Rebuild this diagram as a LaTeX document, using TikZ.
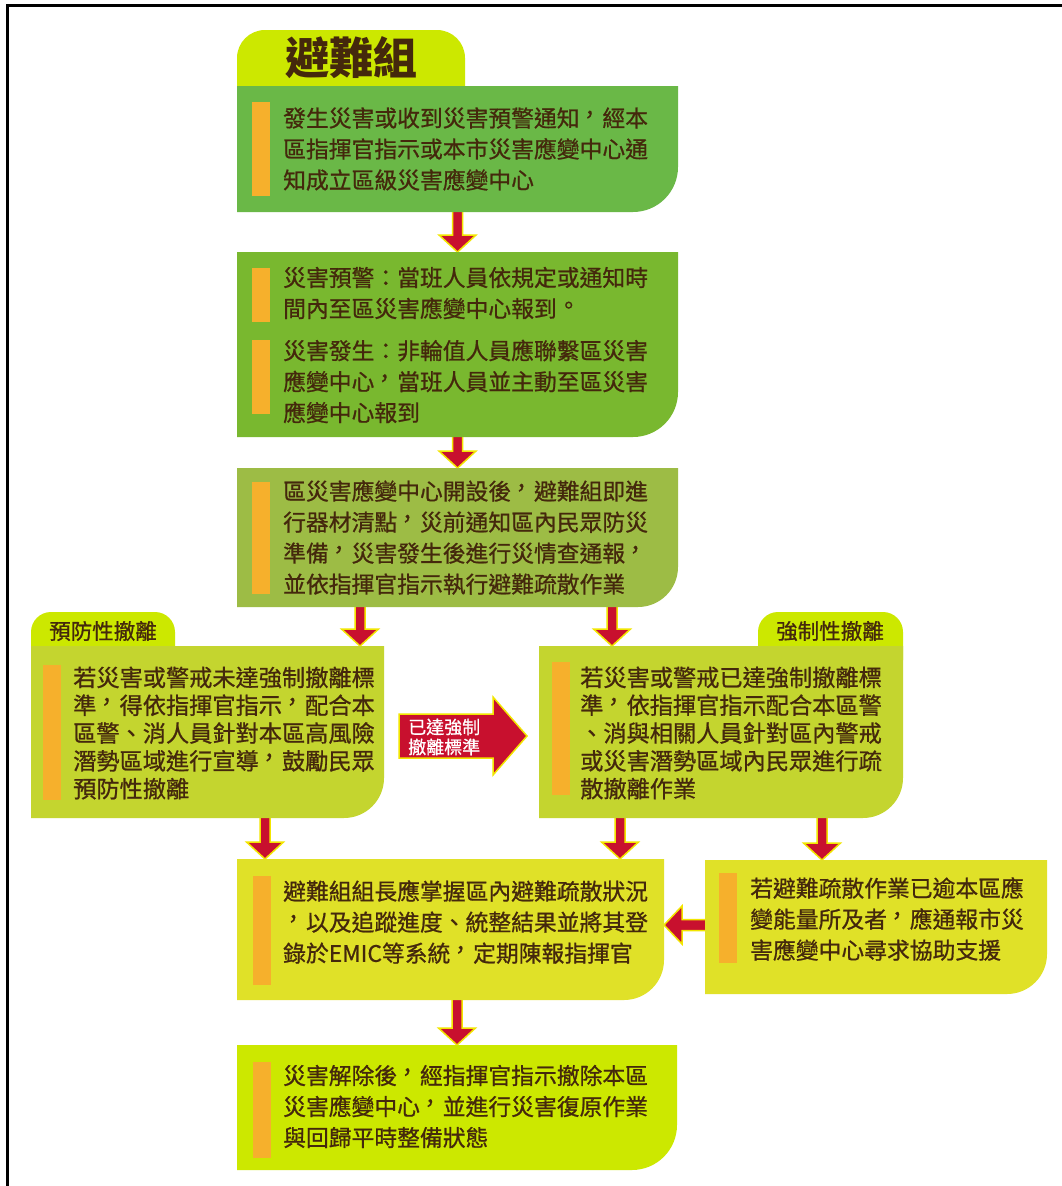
\documentclass[tikz,border=0pt]{standalone}
\usepackage{fontspec}
\setmainfont{Noto Sans CJK TC}[Script=CJK, Language=Chinese Traditional, FakeBold=0.8]
\newfontfamily\titlefont{Noto Sans CJK TC}[Script=CJK, Language=Chinese Traditional]
\usetikzlibrary{calc}
\definecolor{limec}{HTML}{CCE800}
\definecolor{gA}{HTML}{6AB847}
\definecolor{gB}{HTML}{79B82F}
\definecolor{gC}{HTML}{9DBC45}
\definecolor{gD}{HTML}{C4D52F}
\definecolor{gE}{HTML}{E0E128}
\definecolor{barorange}{HTML}{F6B02C}
\definecolor{txtbrown}{HTML}{44280C}
\definecolor{arrred}{HTML}{C8102E}
\definecolor{arryellow}{HTML}{F2E600}
% centred (Taiwan style) punctuation
\newcommand\cm{\rlap{\hspace{-0.06em}\raisebox{0.17em}{，}}\hspace{1em}}
\newcommand\pd{\rlap{\hspace{0.02em}\raisebox{0.15em}{。}}\hspace{1em}}
\tikzset{
  boxnode/.style={rectangle, inner sep=0pt, outer sep=0pt, anchor=north west},
  body/.style={anchor=west, inner sep=0pt, align=left, text=txtbrown, font=\fontsize{22.8}{31}\selectfont},
  bodyw/.style={anchor=west, inner sep=0pt, align=left, text=txtbrown, font=\fontsize{23.2}{27.8}\selectfont},
  barfill/.style={fill=barorange},
  redarr/.style={fill=arrred, draw=arryellow, line width=1.5pt, line join=miter},
  tabtext/.style={text=txtbrown, inner sep=0pt, font=\fontsize{21.5}{24}\selectfont},
  arrtext/.style={text=white, inner sep=0pt, align=left, anchor=west, font=\fontsize{18}{20}\selectfont},
}
\newcommand\boxbg[3]{\fill[#2] (#1.north west) -- (#1.north east) -- ([yshift=#3]#1.south east) arc[start angle=0,end angle=-90,radius=#3] -- (#1.south west) -- cycle;}
\newcommand\darr[2]{\path[redarr] let \p1=(#1), \p2=(#2) in (\x1-5pt,\y1+2pt) -- (\x1-5pt,\y2+17pt) -- (\x1-18.5pt,\y2+17pt) -- (\x1,\y2) -- (\x1+18.5pt,\y2+17pt) -- (\x1+5pt,\y2+17pt) -- (\x1+5pt,\y1+2pt) -- cycle;}
\newcommand\larr[2]{\path[redarr] let \p1=(#1), \p2=(#2) in (\x1+2pt,\y1+5.5pt) -- (\x2+18pt,\y1+5.5pt) -- (\x2+18pt,\y1+19pt) -- (\x2,\y1) -- (\x2+18pt,\y1-19pt) -- (\x2+18pt,\y1-5.5pt) -- (\x1+2pt,\y1-5.5pt) -- cycle;}
\begin{document}
\begin{tikzpicture}[x=1pt,y=-1pt]
\useasboundingbox (0,0) rectangle (1062,1186);
\fill[white] (0,0) rectangle (1062,1186);
% frame
\draw[line width=2.5pt] (7.5,1186) -- (7.5,5.5) -- (1062,5.5);
% box placeholders
\node[boxnode, minimum width=441pt, minimum height=126pt] (b1) at (237,86) {};
\node[boxnode, minimum width=441pt, minimum height=185pt] (b2) at (237,252) {};
\node[boxnode, minimum width=441pt, minimum height=139pt] (b3) at (237,468) {};
\node[boxnode, minimum width=353pt, minimum height=172pt] (b4) at (31,646) {};
\node[boxnode, minimum width=364pt, minimum height=172pt] (b5) at (539,646) {};
\node[boxnode, minimum width=427pt, minimum height=141pt] (b6) at (237,859) {};
\node[boxnode, minimum width=342pt, minimum height=134pt] (b7) at (705,860) {};
\node[boxnode, minimum width=440pt, minimum height=125pt] (b8) at (237,1045) {};
% helper coordinates
\coordinate (xA) at (360,0);
\coordinate (xB) at (612,0);
\coordinate (xC) at (265,0);
\coordinate (xD) at (620,0);
\coordinate (xE) at (822,0);
\coordinate (xF) at (457,0);
\coordinate (yL) at (0,925);
\coordinate (yM) at (0,736);
% arrows
\darr{b1.south}{b2.north}
\darr{b2.south}{b3.north}
\darr{b3.south -| xA}{b4.north -| xA}
\darr{b3.south -| xB}{b5.north -| xB}
\darr{b4.south -| xC}{b6.north -| xC}
\darr{b5.south -| xD}{b6.north -| xD}
\darr{b5.south -| xE}{b7.north -| xE}
\darr{b6.south -| xF}{b8.north -| xF}
\larr{b7.west |- yL}{b6.east |- yL}
% tabs
\fill[limec, rounded corners=28pt] (237,120) -- (237,30) -- (465,30) -- (465,120) -- cycle;
\fill[limec, rounded corners=20pt] (31,680) -- (31,612) -- (175,612) -- (175,680) -- cycle;
\fill[limec, rounded corners=20pt] (758,680) -- (758,612) -- (903,612) -- (903,680) -- cycle;
% boxes
\boxbg{b1}{gA}{45pt}
\boxbg{b2}{gB}{45pt}
\boxbg{b3}{gC}{40pt}
\boxbg{b4}{gD}{40pt}
\boxbg{b5}{gD}{40pt}
\boxbg{b6}{gE}{40pt}
\boxbg{b7}{gE}{40pt}
\boxbg{b8}{limec}{45pt}
% tab texts
\node[text=txtbrown, inner sep=0pt, font=\titlefont\bfseries\fontsize{44}{46}\selectfont] (title) at (351,58) {避難組};
\node[tabtext] (tabL) at (103,631) {預防性撤離};
\node[tabtext] (tabR) at (830,631) {強制性撤離};
% orange bars
\fill[barfill] (252,102) rectangle (270,196);
\fill[barfill] (252,268) rectangle (270,322);
\fill[barfill] (252,340) rectangle (270,414);
\fill[barfill] (252,482) rectangle (270,594);
\fill[barfill] (43,665) rectangle (61,800);
\fill[barfill] (552,662) rectangle (570,795);
\fill[barfill] (253,876) rectangle (271,985);
\fill[barfill] (719,873) rectangle (737,963);
\fill[barfill] (253,1062) rectangle (271,1158);
% texts
\node[body] (t1) at (283,149) {發生災害或收到災害預警通知\cm 經本\\區指揮官指示或本市災害應變中心通\\知成立區級災害應變中心};
\node[body] (t2a) at (283,293) {災害預警：當班人員依規定或通知時\\間內至區災害應變中心報到\pd};
\node[body] (t2b) at (283,381.5) {災害發生：非輪值人員應聯繫區災害\\應變中心\cm 當班人員並主動至區災害\\應變中心報到};
\node[body] (t3) at (283,537.5) {區災害應變中心開設後\cm 避難組即進\\行器材清點\cm 災前通知區內民眾防災\\準備\cm 災害發生後進行災情查通報\cm\\並依指揮官指示執行避難疏散作業};
\node[bodyw] (t4) at (73,733) {若災害或警戒未達強制撤離標\\準\cm 得依指揮官指示\cm 配合本\\區警、消人員針對本區高風險\\潛勢區域進行宣導\cm 鼓勵民眾\\預防性撤離};
\node[bodyw] (t5) at (580,733) {若災害或警戒已達強制撤離標\\準\cm 依指揮官指示配合本區警\\、消與相關人員針對區內警戒\\或災害潛勢區域內民眾進行疏\\散撤離作業};
\node[body] (t6) at (283,922) {避難組組長應掌握區內避難疏散狀況\\\cm 以及追蹤進度、統整結果並將其登\\錄於EMIC等系統\cm 定期陳報指揮官};
\node[body] (t7) at (750,919) {若避難疏散作業已逾本區應\\變能量所及者\cm 應通報市災\\害應變中心尋求協助支援};
\node[body] (t8) at (283,1106.5) {災害解除後\cm 經指揮官指示撤除本區\\災害應變中心\cm 並進行災害復原作業\\與回歸平時整備狀態};
% block arrow between b4 and b5
\path[redarr] let \p1=(b4.east |- yM), \p2=(b5.west |- yM) in
  (\x1+15pt,\y1+22pt) -- (\x2-46pt,\y1+22pt) -- (\x2-46pt,\y1+39pt) -- (\x2-12pt,\y1) -- (\x2-46pt,\y1-39pt) -- (\x2-46pt,\y1-22pt) -- (\x1+15pt,\y1-22pt) -- cycle;
\node[arrtext] (ar) at (408,737) {已達強制\\撤離標準};
\end{tikzpicture}
\end{document}
